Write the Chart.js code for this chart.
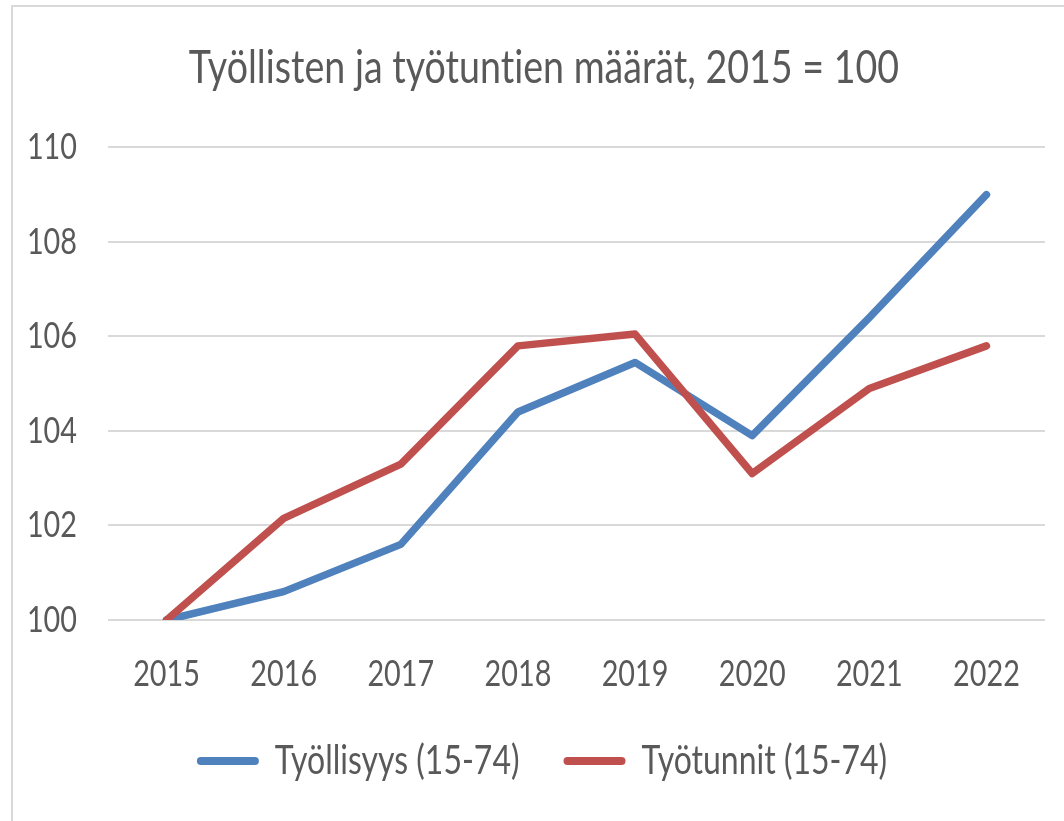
<!DOCTYPE html>
<html>
<head>
<meta charset="utf-8">
<script src="https://cdn.jsdelivr.net/npm/chart.js@4"></script>
<style>
  html, body { margin: 0; padding: 0; background: #fff; overflow: hidden; width: 1064px; height: 821px; }
  #frame { position: absolute; left: 11px; top: 5px; width: 1100px; height: 900px; border-left: 2px solid #d9d9d9; border-top: 2px solid #d9d9d9; box-sizing: border-box; }
  #wrap { position: absolute; left: 12px; top: 6px; width: 1064px; height: 900px; }
</style>
</head>
<body>
<div id="frame"></div>
<div id="wrap"><canvas id="c"></canvas></div>
<script>
const titleText = 'Työllisten ja työtuntien määrät, 2015 = 100';
const categories = ['2015', '2016', '2017', '2018', '2019', '2020', '2021', '2022'];
const seriesNames = ['Työllisyys (15-74)', 'Työtunnit (15-74)'];
const employment = [100, 100.6, 101.6, 104.4, 105.45, 103.9, 106.4, 109.0];
const workHours = [100, 102.15, 103.3, 105.8, 106.05, 103.1, 104.9, 105.8];
const yMin = 100, yMax = 110, yStep = 2;

const FONT = "Lato, 'Open Sans', sans-serif";
const TEXT = '#595959';
const BLUE = '#4F81BD';
const RED = '#C0504D';
const SX = 0.8; // horizontal text compression (reference text is condensed)

const canvas = document.getElementById('c');
const ctx = canvas.getContext('2d');
const _fill = ctx.fillText.bind(ctx);
const _measure = ctx.measureText.bind(ctx);
function noLigatures() { try { ctx.textRendering = 'optimizeSpeed'; } catch (e) {} }
ctx.fillText = function (text, x, y, maxWidth) {
  ctx.save();
  noLigatures();
  ctx.translate(x, y);
  ctx.scale(SX, 1);
  if (maxWidth === undefined) _fill(text, 0, 0); else _fill(text, 0, 0, maxWidth / SX);
  ctx.restore();
};
ctx.measureText = function (text) {
  ctx.save();
  noLigatures();
  const m = _measure(text);
  ctx.restore();
  return {
    width: m.width * SX,
    actualBoundingBoxLeft: m.actualBoundingBoxLeft * SX,
    actualBoundingBoxRight: m.actualBoundingBoxRight * SX,
    actualBoundingBoxAscent: m.actualBoundingBoxAscent,
    actualBoundingBoxDescent: m.actualBoundingBoxDescent,
    fontBoundingBoxAscent: m.fontBoundingBoxAscent,
    fontBoundingBoxDescent: m.fontBoundingBoxDescent
  };
};

new Chart(canvas, {
  type: 'line',
  data: {
    labels: categories,
    datasets: [
      { label: seriesNames[0], data: employment, borderColor: BLUE, backgroundColor: BLUE,
        borderWidth: 7.5, pointRadius: 0, borderCapStyle: 'round', borderJoinStyle: 'round', tension: 0, order: 1 },
      { label: seriesNames[1], data: workHours, borderColor: RED, backgroundColor: RED,
        borderWidth: 7.5, pointRadius: 0, borderCapStyle: 'round', borderJoinStyle: 'round', tension: 0, order: 0 }
    ]
  },
  options: {
    responsive: true,
    maintainAspectRatio: false,
    animation: false,
    layout: { padding: { top: 0, left: 0, right: 0, bottom: 115 } },
    plugins: {
      tooltip: { enabled: false },
      title: {
        display: true, text: titleText, color: TEXT,
        font: { family: FONT, size: 47, weight: 'normal' },
        padding: { top: 34, bottom: 51 }
      },
      legend: {
        display: true, position: 'bottom', align: 'center',
        labels: {
          color: TEXT, font: { family: FONT, size: 40 },
          usePointStyle: true, pointStyleWidth: 54, boxHeight: 8, padding: 48,
          generateLabels(chart) {
            const items = Chart.defaults.plugins.legend.labels.generateLabels(chart);
            items.forEach(it => {
              const ds = chart.data.datasets[it.datasetIndex];
              it.pointStyle = 'line';
              it.lineWidth = 8;
              it.lineCap = 'round';
              it.strokeStyle = ds.borderColor;
              it.fillStyle = ds.borderColor;
            });
            return items.sort((a, b) => a.datasetIndex - b.datasetIndex);
          }
        }
      }
    },
    scales: {
      x: {
        offset: true,
        grid: { display: false, drawTicks: false },
        border: { display: false },
        ticks: { color: TEXT, font: { family: FONT, size: 36 }, padding: 33, maxRotation: 0 },
        afterFit(scale) { scale.height = 73; }
      },
      y: {
        min: yMin, max: yMax,
        grid: { color: '#d9d9d9', lineWidth: 2, drawTicks: false },
        border: { display: false },
        ticks: { stepSize: yStep, color: TEXT, font: { family: FONT, size: 36 }, padding: 31 },
        afterFit(scale) { scale.width = 96; }
      },
      yRightSpace: {
        position: 'right', display: true,
        grid: { display: false, drawTicks: false },
        border: { display: false },
        ticks: { display: false },
        afterFit(scale) { scale.width = 31; }
      }
    }
  }
});
</script>
</body>
</html>
